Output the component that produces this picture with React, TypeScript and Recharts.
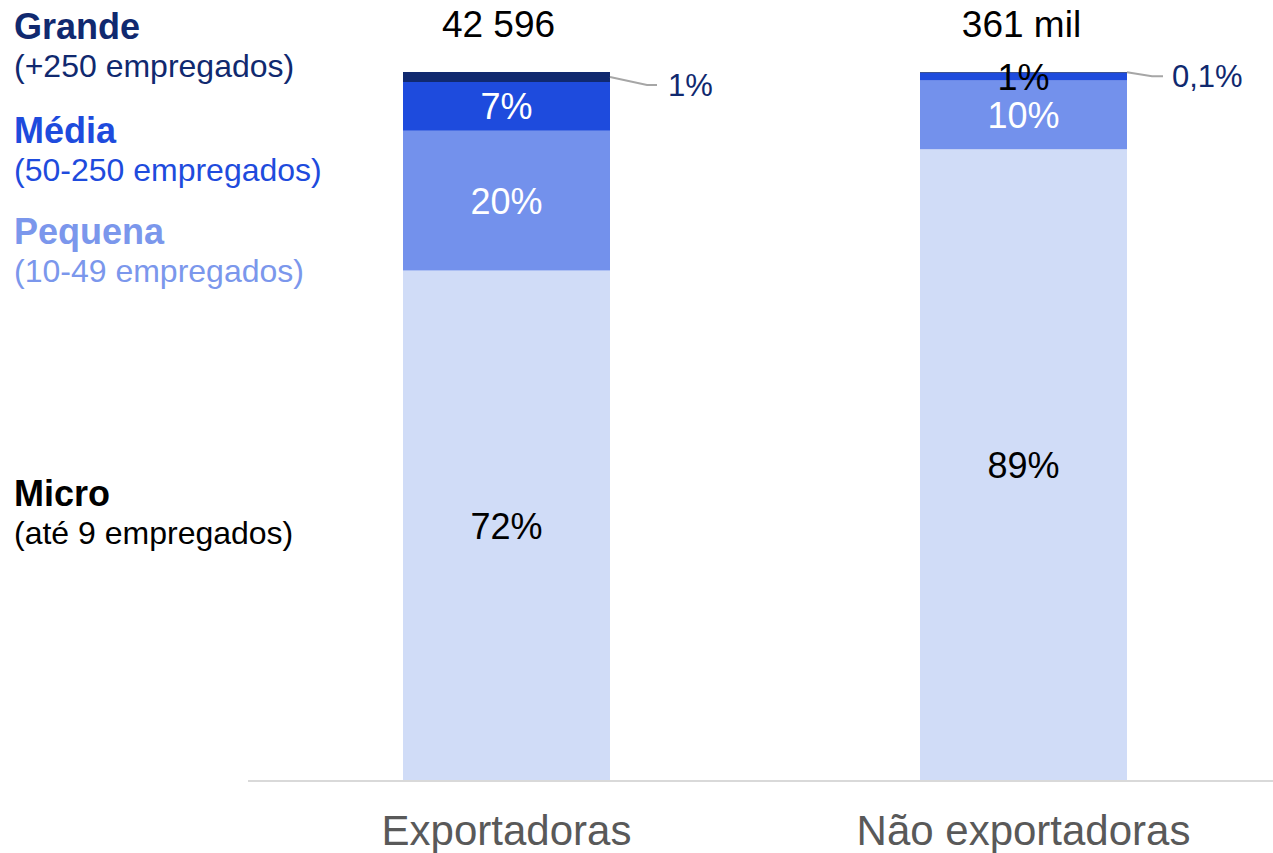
import { BarChart, Bar, XAxis, YAxis, LabelList } from "recharts";

const categories = ["Exportadoras", "Não exportadoras"];
const micro = [72.0, 89.1];
const pequena = [19.7, 9.7];
const media = [6.9, 1.1];
const grande = [1.4, 0.1];

const microLabels = ["72%", "89%"];
const pequenaLabels = ["20%", "10%"];
const mediaLabels = ["7%", "1%"];
const grandeLabels = ["1%", "0,1%"];
const totals = ["42 596", "361 mil"];

const data = categories.map((name, i) => ({
  name,
  micro: micro[i],
  pequena: pequena[i],
  media: media[i],
  grande: grande[i],
}));

const NAVY = "#10296f";
const BLUE = "#1e4bdd";
const LIGHT = "#7391ec";
const PALE = "#d0dcf7";
const FONT = "'Liberation Sans', Arial, sans-serif";

// leader line geometry for the small "Grande" labels, per bar
const leader = [
  { elbow: 37, end: 47, text: 58, dy: 8 },
  { elbow: 25, end: 36, text: 45, dy: 4 },
];
const totalShift = [-8, -2];

function inside(labels: string[], colors: string[]) {
  return (props: any) => {
    const { x, y, width, height, index } = props;
    return (
      <text
        x={x + width / 2}
        y={y + height / 2 + 13}
        textAnchor="middle"
        fill={colors[index]}
        fontSize={36}
        fontFamily={FONT}
      >
        {labels[index]}
      </text>
    );
  };
}

function GrandeLabel(props: any) {
  const { x, y, width, height, index } = props;
  const right = x + width;
  const cy = y + height / 2;
  const l = leader[index];
  return (
    <g>
      <polyline
        points={`${right},${cy} ${right + l.elbow},${cy + l.dy} ${right + l.end},${cy + l.dy}`}
        fill="none"
        stroke="#a6a6a6"
        strokeWidth={2}
      />
      <text
        x={right + l.text}
        y={cy + l.dy + 11}
        fill={NAVY}
        fontSize={31}
        fontFamily={FONT}
      >
        {grandeLabels[index]}
      </text>
      <text
        x={x + width / 2 + totalShift[index]}
        y={37}
        textAnchor="middle"
        fill="#000"
        fontSize={37}
        fontFamily={FONT}
      >
        {totals[index]}
      </text>
    </g>
  );
}

function CategoryTick(props: any) {
  const { x, y, payload } = props;
  return (
    <text
      x={x}
      y={y + 64}
      textAnchor="middle"
      fill="#595959"
      fontSize={42}
      fontFamily={FONT}
    >
      {payload.value}
    </text>
  );
}

const legend = [
  { title: "Grande", sub: "(+250 empregados)", color: NAVY, y: 39 },
  { title: "Média", sub: "(50-250 empregados)", color: BLUE, y: 143 },
  { title: "Pequena", sub: "(10-49 empregados)", color: "#7b97ec", y: 244 },
  { title: "Micro", sub: "(até 9 empregados)", color: "#000", y: 506 },
];

export default function App() {
  return (
    <div
      style={{
        position: "absolute",
        left: 0,
        top: 0,
        width: 1273,
        height: 853,
        overflow: "hidden",
        background: "#fff",
      }}
    >
      <BarChart
        width={1282}
        height={853}
        data={data}
        margin={{ top: 72, right: 0, bottom: 0, left: 248 }}
      >
        <XAxis
          dataKey="name"
          height={72}
          tickLine={false}
          tickSize={0}
          tickMargin={0}
          axisLine={{ stroke: "#d9d9d9", strokeWidth: 2 }}
          tick={<CategoryTick />}
        />
        <YAxis hide domain={[0, 100]} allowDataOverflow />
        <Bar dataKey="micro" stackId="a" fill={PALE} barSize={207} isAnimationActive={false}>
          <LabelList content={inside(microLabels, ["#000", "#000"])} />
        </Bar>
        <Bar dataKey="pequena" stackId="a" fill={LIGHT} barSize={207} isAnimationActive={false}>
          <LabelList content={inside(pequenaLabels, ["#fff", "#fff"])} />
        </Bar>
        <Bar dataKey="media" stackId="a" fill={BLUE} barSize={207} isAnimationActive={false}>
          <LabelList content={inside(mediaLabels, ["#fff", "#000"])} />
        </Bar>
        <Bar dataKey="grande" stackId="a" fill={NAVY} barSize={207} isAnimationActive={false}>
          <LabelList content={<GrandeLabel />} />
        </Bar>
      </BarChart>
      <svg
        width={330}
        height={600}
        style={{ position: "absolute", left: 0, top: 0 }}
      >
        {legend.map((l) => (
          <g key={l.title} fill={l.color} fontFamily={FONT}>
            <text x={14} y={l.y} fontSize={36} fontWeight="bold">
              {l.title}
            </text>
            <text x={14} y={l.y + 38} fontSize={32}>
              {l.sub}
            </text>
          </g>
        ))}
      </svg>
    </div>
  );
}
